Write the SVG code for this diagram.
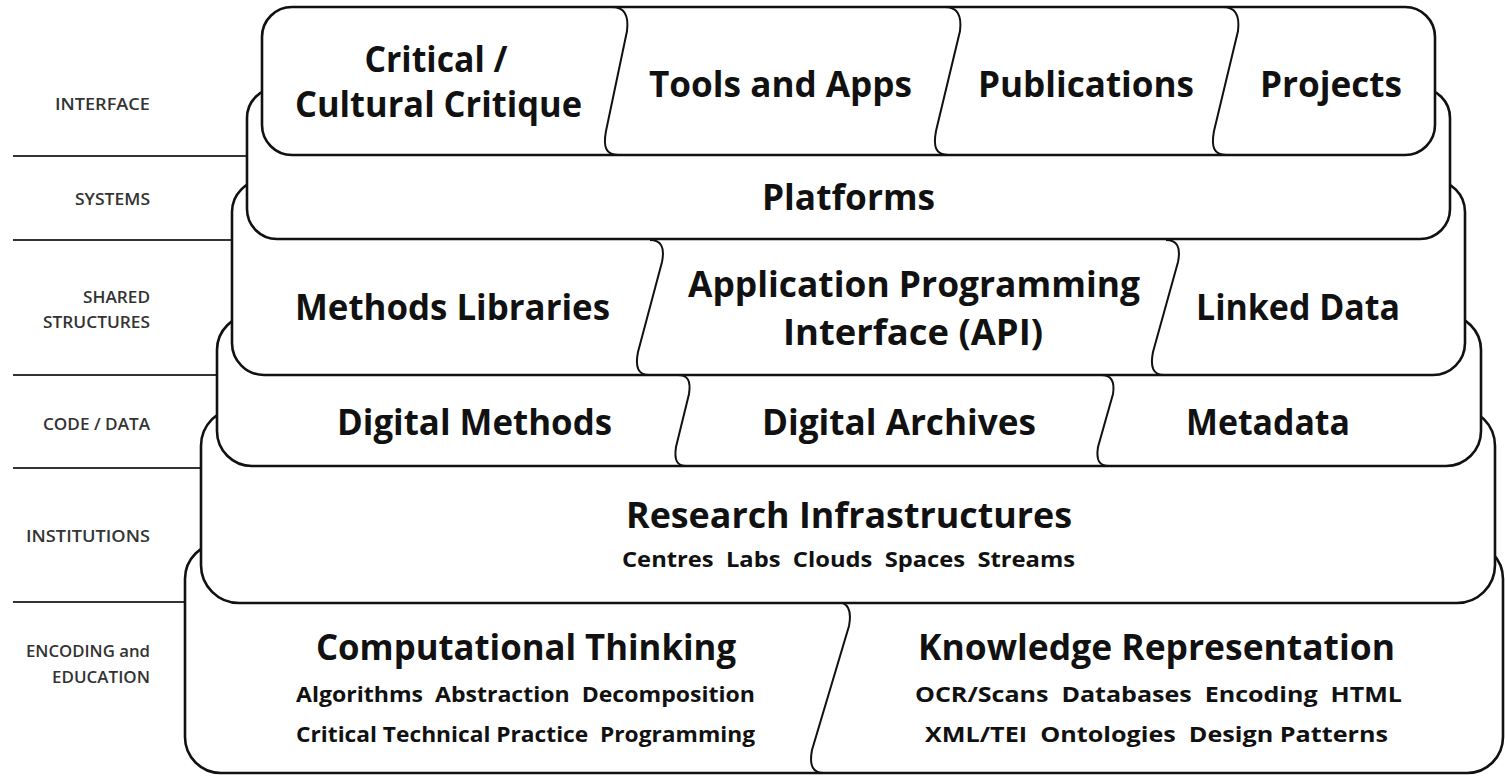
<svg xmlns="http://www.w3.org/2000/svg" width="1505" height="776" viewBox="0 0 1505 776">
<style>
.layer{fill:#fff;stroke:#111;stroke-width:2.6}
.div{fill:none;stroke:#111;stroke-width:2}
.sep{stroke:#333;stroke-width:2}
.t{font-family:"Open Sans","Noto Sans",sans-serif;font-weight:700;font-size:36px;fill:#111;text-anchor:middle}
.s{font-family:"Open Sans","Noto Sans",sans-serif;font-weight:700;font-size:22px;fill:#111;text-anchor:middle;white-space:pre}
.lab{font-family:"Open Sans","Noto Sans",sans-serif;font-weight:600;font-size:17px;fill:#333;text-anchor:end}
</style>
<rect width="1505" height="776" fill="#fff"/>
<g id="separators">
<line class="sep" x1="13" y1="156" x2="247" y2="156"/>
<line class="sep" x1="13" y1="240" x2="232" y2="240"/>
<line class="sep" x1="13" y1="375" x2="217" y2="375"/>
<line class="sep" x1="13" y1="468" x2="201" y2="468"/>
<line class="sep" x1="13" y1="602" x2="185" y2="602"/>
</g>
<g id="level-labels">
<text class="lab" x="150" y="110" textLength="95" lengthAdjust="spacingAndGlyphs">INTERFACE</text>
<text class="lab" x="150" y="205" textLength="75" lengthAdjust="spacingAndGlyphs">SYSTEMS</text>
<text class="lab" x="150" y="303" textLength="67" lengthAdjust="spacingAndGlyphs">SHARED</text>
<text class="lab" x="150" y="328" textLength="107" lengthAdjust="spacingAndGlyphs">STRUCTURES</text>
<text class="lab" x="150" y="430" textLength="107" lengthAdjust="spacingAndGlyphs">CODE / DATA</text>
<text class="lab" x="150" y="542" textLength="124" lengthAdjust="spacingAndGlyphs">INSTITUTIONS</text>
<text class="lab" x="150" y="657" textLength="124" lengthAdjust="spacingAndGlyphs">ENCODING and</text>
<text class="lab" x="150" y="683" textLength="98" lengthAdjust="spacingAndGlyphs">EDUCATION</text>
</g>
<g id="layer-encoding">
<rect class="layer" x="185" y="543" width="1318" height="230" rx="36"/>
<path class="div" d="M 836,602 C 848,602 852,610 849,626 L 812,750 C 809,766 813,773 824,773"/>
<g id="computational-thinking">
<text class="t" x="526" y="660" textLength="420" lengthAdjust="spacingAndGlyphs">Computational Thinking</text>
<text class="s" x="525.5" y="702" textLength="459" lengthAdjust="spacingAndGlyphs">Algorithms  Abstraction  Decomposition</text>
<text class="s" x="525.5" y="742" textLength="459" lengthAdjust="spacingAndGlyphs">Critical Technical Practice  Programming</text>
</g>
<g id="knowledge-representation">
<text class="t" x="1156.5" y="660" textLength="477" lengthAdjust="spacingAndGlyphs">Knowledge Representation</text>
<text class="s" x="1158.5" y="702" textLength="487" lengthAdjust="spacingAndGlyphs">OCR/Scans  Databases  Encoding  HTML</text>
<text class="s" x="1156.5" y="742" textLength="463" lengthAdjust="spacingAndGlyphs">XML/TEI  Ontologies  Design Patterns</text>
</g>
</g>
<g id="layer-institutions">
<rect class="layer" x="201" y="408" width="1294" height="195" rx="38"/>
<g id="research-infrastructures">
<text class="t" x="849" y="528" textLength="446" lengthAdjust="spacingAndGlyphs">Research Infrastructures</text>
<text class="s" x="848.5" y="567" textLength="453" lengthAdjust="spacingAndGlyphs">Centres  Labs  Clouds  Spaces  Streams</text>
</g>
</g>
<g id="layer-code-data">
<rect class="layer" x="217" y="315" width="1264" height="151" rx="35"/>
<path class="div" d="M 678,375 C 688,375 691,381 689,394 L 676,447 C 674,460 677,466 686,466"/>
<path class="div" d="M 1101,375 C 1111,375 1115,381 1113,394 L 1098,447 C 1096,460 1099,466 1109,466"/>
<g id="digital-methods"><text class="t" x="474.5" y="435" textLength="275" lengthAdjust="spacingAndGlyphs">Digital Methods</text></g>
<g id="digital-archives"><text class="t" x="899" y="435" textLength="274" lengthAdjust="spacingAndGlyphs">Digital Archives</text></g>
<g id="metadata"><text class="t" x="1268" y="435" textLength="164" lengthAdjust="spacingAndGlyphs">Metadata</text></g>
</g>
<g id="layer-shared-structures">
<rect class="layer" x="232" y="180" width="1233" height="195" rx="32"/>
<path class="div" d="M 650,240 C 661,240 665,247 662,262 L 638,352 C 635,367 638,375 649,375"/>
<path class="div" d="M 1166,240 C 1177,240 1181,247 1178,262 L 1153,352 C 1150,367 1153,375 1164,375"/>
<g id="methods-libraries"><text class="t" x="452.5" y="320" textLength="315" lengthAdjust="spacingAndGlyphs">Methods Libraries</text></g>
<g id="api">
<text class="t" x="914" y="297" textLength="452" lengthAdjust="spacingAndGlyphs">Application Programming</text>
<text class="t" x="913" y="345" textLength="260" lengthAdjust="spacingAndGlyphs">Interface (API)</text>
</g>
<g id="linked-data"><text class="t" x="1298" y="320" textLength="204" lengthAdjust="spacingAndGlyphs">Linked Data</text></g>
</g>
<g id="layer-systems">
<rect class="layer" x="247" y="88" width="1203" height="151" rx="30"/>
<g id="platforms"><text class="t" x="848.5" y="210" textLength="173" lengthAdjust="spacingAndGlyphs">Platforms</text></g>
</g>
<g id="layer-interface">
<rect class="layer" x="262" y="7" width="1173" height="148" rx="30"/>
<path class="div" d="M 612,7 C 624,7 629,15 627,31 L 606,131 C 603,147 606,155 618,155"/>
<path class="div" d="M 945,7 C 957,7 962,15 960,31 L 936,131 C 933,147 936,155 948,155"/>
<path class="div" d="M 1223,7 C 1235,7 1240,15 1238,31 L 1214,131 C 1211,147 1214,155 1226,155"/>
<g id="critical-cultural-critique">
<text class="t" x="436" y="72" textLength="143" lengthAdjust="spacingAndGlyphs">Critical /</text>
<text class="t" x="438.5" y="117" textLength="287" lengthAdjust="spacingAndGlyphs">Cultural Critique</text>
</g>
<g id="tools-and-apps"><text class="t" x="780.5" y="97" textLength="263" lengthAdjust="spacingAndGlyphs">Tools and Apps</text></g>
<g id="publications"><text class="t" x="1086" y="97" textLength="216" lengthAdjust="spacingAndGlyphs">Publications</text></g>
<g id="projects"><text class="t" x="1331" y="97" textLength="142" lengthAdjust="spacingAndGlyphs">Projects</text></g>
</g>
</svg>
